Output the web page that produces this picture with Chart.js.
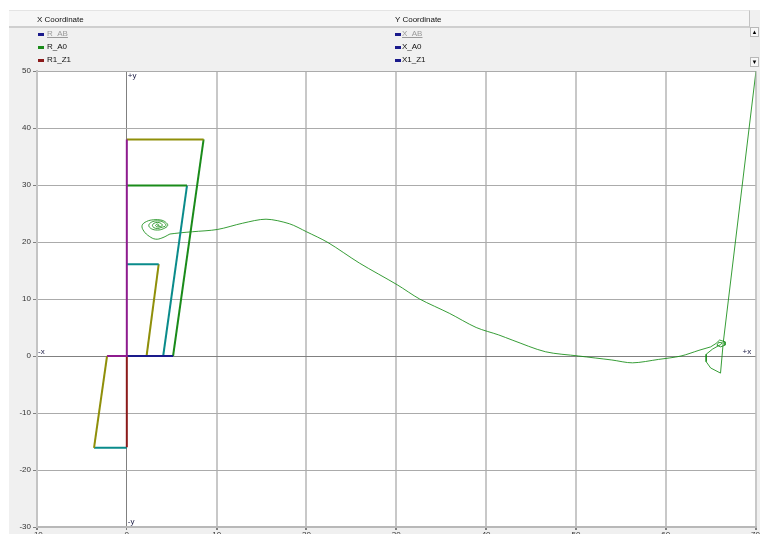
<!DOCTYPE html>
<html>
<head>
<meta charset="utf-8">
<script src="https://cdn.jsdelivr.net/npm/chart.js@4/dist/chart.umd.min.js"></script>
<style>
  html, body { margin: 0; padding: 0; background: #fff; overflow: hidden; }
  #wrap { position: relative; width: 760px; height: 534px; overflow: hidden; }
  #plot { position: absolute; left: 0; top: 0; }
  .t { position: absolute; font: 8px "Liberation Sans", Arial, sans-serif; color: #111; white-space: nowrap; line-height: 10px; }
  .off { color: #9a9a9a; text-decoration: underline; }
  .sq { position: absolute; width: 6px; height: 3px; }
  #head { position: absolute; left: 9px; top: 10px; width: 740px; height: 15px; background: #f6f6f6;
          border-top: 1px solid #e4e4e4; border-bottom: 2px solid #cfcfcf; border-right: 1px solid #c4c4c4; }
  #scroll { position: absolute; left: 750px; top: 27px; width: 10px; height: 40px; background: #ececec; }
  .btn { position: absolute; left: 0; width: 9px; height: 10px; background: #f7f7f7; border: 1px solid #b8b8b8; box-sizing: border-box;
         font: 6px Arial, sans-serif; text-align: center; line-height: 8px; color: #000; }
</style>
</head>
<body>
<div id="wrap">
  <canvas id="plot" width="760" height="545"></canvas>
  <div id="head"></div>
  <div class="t" style="left:37px;top:15px">X Coordinate</div>
  <div class="t" style="left:395px;top:15px">Y Coordinate</div>

  <div class="sq" style="left:38px;top:33px;background:#1a1a8b"></div>
  <div class="t off" style="left:47px;top:29px">R_AB</div>
  <div class="sq" style="left:38px;top:46px;background:#1a8b1a"></div>
  <div class="t" style="left:47px;top:42px">R_A0</div>
  <div class="sq" style="left:38px;top:59px;background:#8b1a1a"></div>
  <div class="t" style="left:47px;top:55px">R1_Z1</div>

  <div class="sq" style="left:395px;top:33px;background:#1a1a8b"></div>
  <div class="t off" style="left:402px;top:29px">X_AB</div>
  <div class="sq" style="left:395px;top:46px;background:#1a1a8b"></div>
  <div class="t" style="left:402px;top:42px">X_A0</div>
  <div class="sq" style="left:395px;top:59px;background:#1a1a8b"></div>
  <div class="t" style="left:402px;top:55px">X1_Z1</div>

  <div id="scroll">
    <div class="btn" style="top:0">&#9650;</div>
    <div class="btn" style="top:30px">&#9660;</div>
  </div>
</div>
<script>
// axis ticks
const ticksX = [-10, 0, 10, 20, 30, 40, 50, 60, 70];
const ticksY = [-30, -20, -10, 0, 10, 20, 30, 40, 50];

// mechanism links (thick lines)
const purpleX = [-2.2, 0, 0];
const purpleY = [0, 0, 38];
const redX = [0, 0];
const redY = [0, -16];
const oliveLowX = [-2.2, -3.65];
const oliveLowY = [0, -16.1];
const tealLowX = [-3.65, 0];
const tealLowY = [-16.1, -16.1];
const navyX = [0, 5.15];
const navyY = [0, 0];
const oliveTopX = [0, 8.55];
const oliveTopY = [38, 38];
const greenRodX = [8.55, 5.15];
const greenRodY = [38, 0];
const greenMidX = [0, 6.7];
const greenMidY = [29.9, 29.9];
const tealRodX = [6.7, 4.05];
const tealRodY = [29.9, 0];
const tealShortX = [0, 3.55];
const tealShortY = [16.1, 16.1];
const oliveShortX = [3.55, 2.2];
const oliveShortY = [16.1, 0];

// coupler curve (thin green): spiral on the left, long sweep, tail on the right
const spiralX = [3.4, 3.6, 3.4, 3.2, 3.4, 3.95, 3.79, 3.4, 3.01, 2.85, 3.01, 3.4, 3.79,
  4.35, 4.07, 3.4, 2.73, 2.45, 2.73, 3.4, 4.07, 4.55, 4.3, 3.8, 3.0, 2.2, 1.7, 1.9, 2.5, 3.2, 3.9, 4.8];
const spiralY = [22.9, 22.9, 23.15, 22.9, 22.65, 22.9, 23.27, 23.43, 23.27, 22.9, 22.53, 22.37, 22.53,
  22.9, 23.47, 23.7, 23.47, 22.9, 22.33, 22.1, 22.33, 22.9, 23.5, 23.85, 23.9, 23.6, 22.9, 21.9, 21.0, 20.5, 20.7, 21.4];
const sweepX = [4.8, 5.9, 7.3, 10.1, 12.9, 15.5, 18.1, 20.0, 22.4, 25.9, 30.1, 32.6, 35.9, 38.9, 41.4, 42.9,
  46.6, 50.3, 54.0, 56.3, 59.2, 61.7, 63.7];
const sweepY = [21.4, 21.6, 21.8, 22.2, 23.3, 24.0, 23.2, 21.8, 19.9, 16.3, 12.5, 10.0, 7.5, 5.0, 3.7, 2.8,
  0.75, 0, -0.7, -1.2, -0.6, 0, 1.0];
const tailX = [63.7, 65.0, 65.6, 66.0, 66.6, 66.6, 66.1, 65.7, 65.9, 66.3, 66.1, 65.2, 64.5, 64.5, 65.0, 66.1, 66.4, 70.05];
const tailY = [1.0, 1.6, 2.2, 2.8, 2.5, 1.9, 1.6, 1.9, 2.4, 2.3, 2.0, 1.2, 0.3, -1.0, -2.1, -3.0, 2.3, 50];

function pts(xs, ys) {
  return xs.map((x, i) => ({ x: x, y: ys[i] }));
}

function link(xs, ys, color) {
  return {
    data: pts(xs, ys),
    borderColor: color,
    borderWidth: 2,
    showLine: true,
    pointRadius: 0,
    order: 1
  };
}

function thin(xs, ys, tension) {
  return {
    data: pts(xs, ys),
    borderColor: 'rgba(20,140,20,0.85)',
    borderWidth: 1,
    showLine: true,
    tension: tension,
    pointRadius: 0,
    order: 5
  };
}

// background panel + white plot area, axis direction labels
const framePlugin = {
  id: 'frame',
  beforeDraw(chart) {
    const c = chart.ctx, a = chart.chartArea;
    c.save();
    c.fillStyle = '#ffffff';
    c.fillRect(0, 0, chart.width, chart.height);
    c.fillStyle = '#f0f0f0';
    c.fillRect(9, 10, chart.width - 9, chart.height - 10);
    c.fillStyle = '#ffffff';
    c.fillRect(a.left, a.top, a.right - a.left, a.bottom - a.top);
    c.restore();
  },
  afterDraw(chart) {
    const c = chart.ctx, a = chart.chartArea;
    const x0 = chart.scales.x.getPixelForValue(0);
    const y0 = chart.scales.y.getPixelForValue(0);
    c.save();
    c.font = '8px "Liberation Sans", Arial, sans-serif';
    c.fillStyle = '#23234a';
    c.textBaseline = 'middle';
    c.fillText('+y', x0 + 1, a.top + 5);
    c.fillText('-y', x0 + 1, a.bottom - 5);
    c.fillText('-x', a.left + 1, y0 - 4);
    c.fillText('+x', a.right - 13, y0 - 4);
    c.restore();
  }
};

new Chart(document.getElementById('plot'), {
  type: 'scatter',
  data: {
    datasets: [
      link(purpleX, purpleY, '#8e1b8e'),
      link(redX, redY, '#8b1a1a'),
      link(oliveLowX, oliveLowY, '#8f8f0a'),
      link(tealLowX, tealLowY, '#0a8b8b'),
      link(navyX, navyY, '#1a1a8b'),
      link(oliveTopX, oliveTopY, '#8f8f0a'),
      link(greenRodX, greenRodY, '#1a8b1a'),
      link(greenMidX, greenMidY, '#1a8b1a'),
      link(tealRodX, tealRodY, '#0a8b8b'),
      link(tealShortX, tealShortY, '#0a8b8b'),
      link(oliveShortX, oliveShortY, '#8f8f0a'),
      thin(spiralX, spiralY, 0.4),
      thin(sweepX, sweepY, 0.3),
      thin(tailX, tailY, 0)
    ]
  },
  options: {
    responsive: false,
    animation: false,
    devicePixelRatio: 1,
    layout: { autoPadding: false, padding: { left: 0, top: 71, right: 3, bottom: 0 } },
    plugins: { legend: { display: false }, tooltip: { enabled: false } },
    scales: {
      x: {
        type: 'linear',
        min: -10,
        max: 70,
        afterBuildTicks: s => { s.ticks = ticksX.map(v => ({ value: v })); },
        afterFit: s => { s.height = 18; },
        grid: {
          color: c => (c.tick && c.tick.value === 0) ? '#808080' : '#c8c8c8',
          lineWidth: c => (c.tick && c.tick.value === 0) ? 1 : 2,
          tickLength: 3,
          tickColor: '#808080'
        },
        border: { display: true, color: '#b8b8b8', width: 2 },
        ticks: { color: '#333', padding: 0, maxRotation: 0, font: { size: 8, family: '"Liberation Sans", Arial' } }
      },
      y: {
        type: 'linear',
        min: -30,
        max: 50,
        afterBuildTicks: s => { s.ticks = ticksY.map(v => ({ value: v })); },
        afterFit: s => { s.width = 37; },
        grid: {
          color: c => (c.tick && c.tick.value === 0) ? '#808080' : '#ababab',
          lineWidth: 1,
          tickLength: 4,
          tickColor: '#808080'
        },
        border: { display: true, color: '#c4c4c4', width: 2 },
        ticks: { color: '#333', padding: 2, font: { size: 8, family: '"Liberation Sans", Arial' } }
      }
    }
  },
  plugins: [framePlugin]
});
</script>
</body>
</html>
